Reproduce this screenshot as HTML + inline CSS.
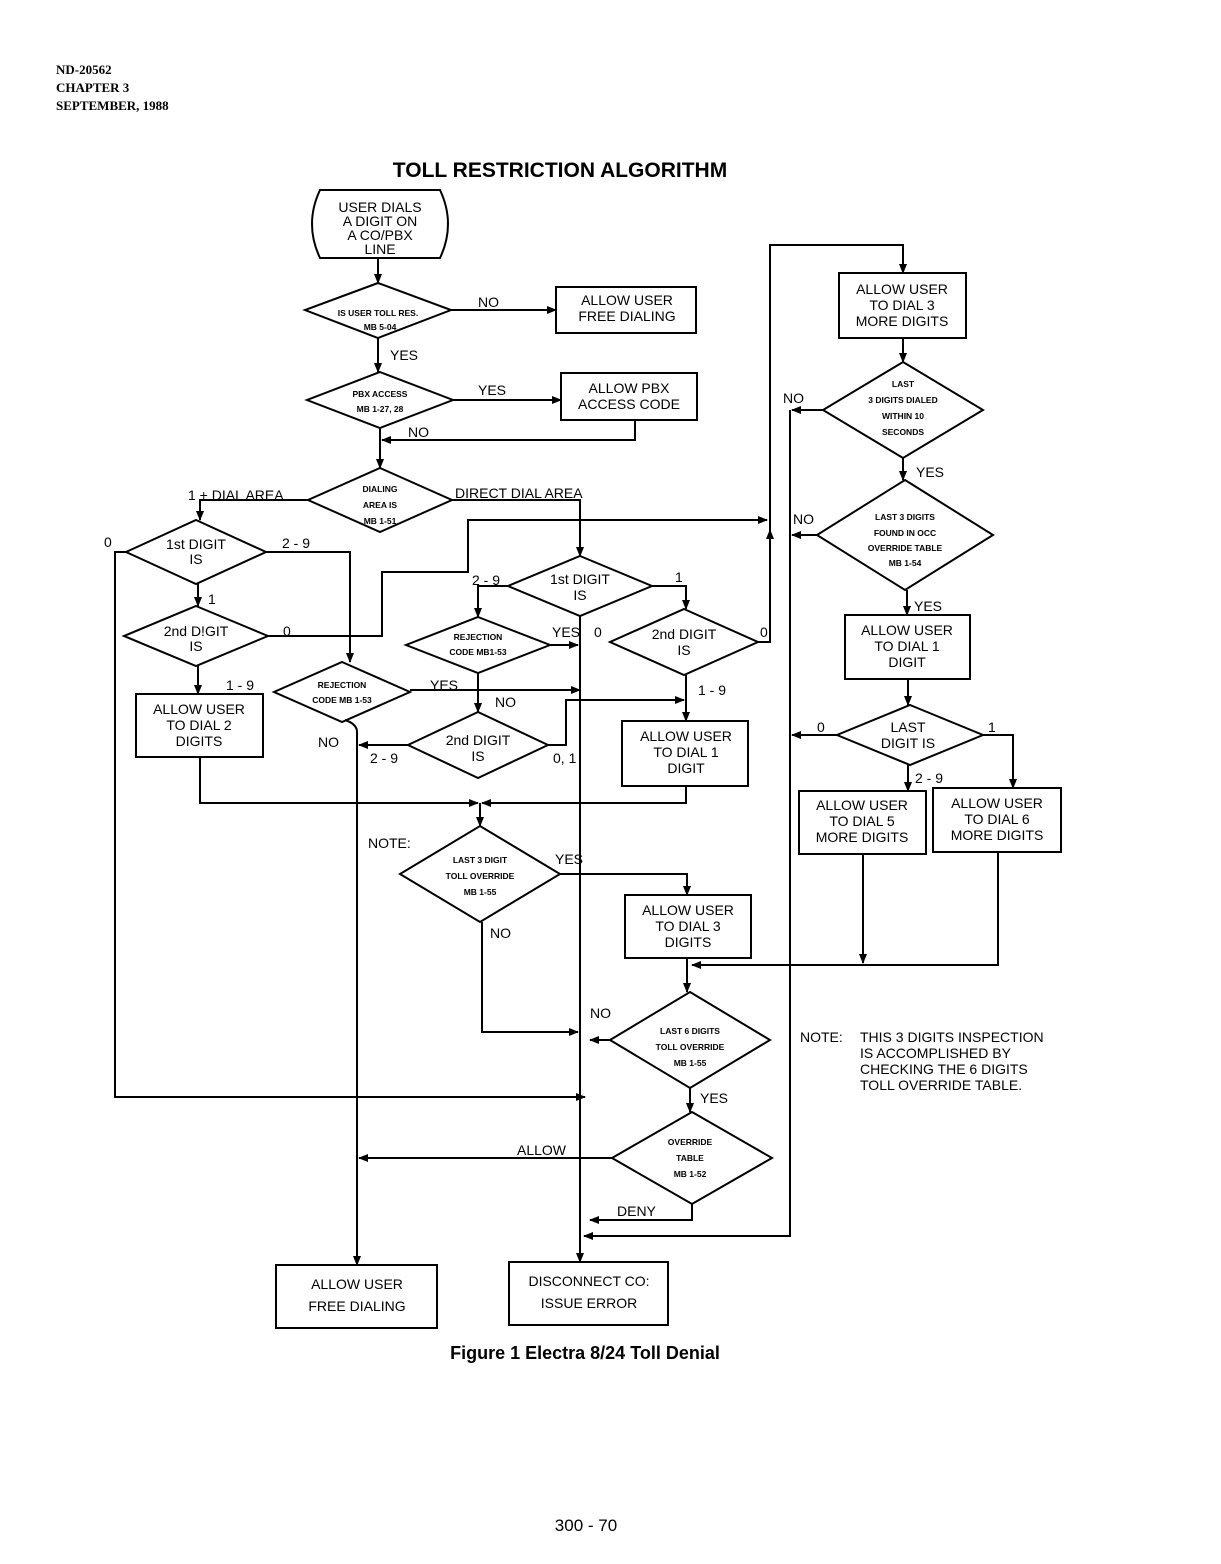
<!DOCTYPE html>
<html><head><meta charset="utf-8"><style>
html,body{margin:0;padding:0;background:#fff;}
svg{display:block;}
text{font-family:"Liberation Sans",sans-serif;fill:#000;}
.s{font-size:13.5px;}
.xs{font-size:8.5px;font-weight:bold;}
.m{font-size:14px;}
</style></head><body>
<svg width="1221" height="1564" viewBox="0 0 1221 1564" xmlns="http://www.w3.org/2000/svg">
<defs><marker id="a" markerWidth="10" markerHeight="8" refX="9" refY="4" orient="auto" markerUnits="userSpaceOnUse"><path d="M0,0 L10,4 L0,8 z" fill="#000"/></marker></defs>

<g font-family="Liberation Serif" font-weight="bold" font-size="13">
<text x="56" y="74" style="font-family:'Liberation Serif',serif">ND-20562</text>
<text x="56" y="92" style="font-family:'Liberation Serif',serif">CHAPTER 3</text>
<text x="56" y="110" style="font-family:'Liberation Serif',serif">SEPTEMBER, 1988</text>
</g>
<text x="560" y="177" text-anchor="middle" font-size="21" font-weight="bold">TOLL RESTRICTION ALGORITHM</text>

<g fill="none" stroke="#000" stroke-width="2">
<!-- start terminal -->
<path d="M320,190 H440 Q456,224 440,258 H320 Q304,224 320,190 Z"/>
<path d="M378,258 V283" marker-end="url(#a)"/>
<!-- diamond 1 -->
<path d="M378,283 L451,310 L378,338 L305,310 Z"/>
<path d="M451,310 H556" marker-end="url(#a)"/>
<rect x="556" y="287" width="140" height="46"/>
<path d="M378,338 V372" marker-end="url(#a)"/>
<!-- diamond 2 -->
<path d="M380,372 L453,400 L380,428 L307,400 Z"/>
<path d="M453,400 H561" marker-end="url(#a)"/>
<rect x="561" y="373" width="136" height="47"/>
<path d="M635,420 V440 H382" marker-end="url(#a)"/>
<path d="M380,428 V468" marker-end="url(#a)"/>
<!-- diamond 3 -->
<path d="M380,468 L452,500 L380,532 L308,500 Z"/>
<path d="M308,500 H200 V520" marker-end="url(#a)"/>
<path d="M452,500 H580 V556" marker-end="url(#a)"/>
<!-- left 1st digit -->
<path d="M196,520 L266,552 L196,584 L126,552 Z"/>
<path d="M126,552 H115 V1097 H585" marker-end="url(#a)"/>
<path d="M266,552 H350 V662" marker-end="url(#a)"/>
<path d="M198,584 V606" marker-end="url(#a)"/>
<!-- left 2nd digit -->
<path d="M196,606 L268,636 L196,666 L124,636 Z"/>
<path d="M268,636 H382 V572 H468 V520 H767" marker-end="url(#a)"/>
<path d="M198,666 V694" marker-end="url(#a)"/>
<rect x="136" y="694" width="127" height="63"/>
<path d="M200,757 V803 H478" marker-end="url(#a)"/>
<!-- left rejection -->
<path d="M342,662 L410,692 L342,722 L274,692 Z"/>
<path d="M410,690 H580" marker-end="url(#a)"/>
<path d="M345,720 Q357,724 357,732 V1265" marker-end="url(#a)"/>
<!-- middle 1st digit -->
<path d="M580,556 L652,586 L580,616 L508,586 Z"/>
<path d="M508,586 H478 V617" marker-end="url(#a)"/>
<path d="M652,586 H686 V609" marker-end="url(#a)"/>
<path d="M580,616 V1262" marker-end="url(#a)"/>
<!-- middle rejection -->
<path d="M478,617 L550,645 L478,673 L406,645 Z"/>
<path d="M550,645 H578" marker-end="url(#a)"/>
<path d="M478,673 V712" marker-end="url(#a)"/>
<!-- middle 2nd digit -->
<path d="M478,712 L548,745 L478,778 L408,745 Z"/>
<path d="M408,745 H359" marker-end="url(#a)"/>
<path d="M548,745 H566 V700 H684" marker-end="url(#a)"/>
<!-- right 2nd digit -->
<path d="M684,609 L758,642 L684,675 L610,642 Z"/>
<path d="M758,642 H770 V245 H903 V273" marker-end="url(#a)"/>
<path d="M770,560 V530" marker-end="url(#a)"/>
<path d="M686,675 V721" marker-end="url(#a)"/>
<rect x="622" y="721" width="126" height="65"/>
<path d="M686,786 V803 H482" marker-end="url(#a)"/>
<path d="M480,803 V826" marker-end="url(#a)"/>
<!-- last 3 digit -->
<path d="M480,826 L560,874 L480,922 L400,874 Z"/>
<path d="M560,874 H687 V895" marker-end="url(#a)"/>
<rect x="625" y="895" width="126" height="63"/>
<path d="M482,922 V1032 H578" marker-end="url(#a)"/>
<path d="M687,958 V992" marker-end="url(#a)"/>
<path d="M998,852 V965 H692" marker-end="url(#a)"/>
<!-- last 6 digits -->
<path d="M690,992 L770,1040 L690,1088 L610,1040 Z"/>
<path d="M610,1040 H590" marker-end="url(#a)"/>
<path d="M690,1088 V1112" marker-end="url(#a)"/>
<!-- override table -->
<path d="M692,1112 L772,1158 L692,1204 L612,1158 Z"/>
<path d="M612,1158 H359" marker-end="url(#a)"/>
<path d="M692,1204 V1220 H590" marker-end="url(#a)"/>
<path d="M790,410 V1236 H584" marker-end="url(#a)"/>
<!-- bottom boxes -->
<rect x="276" y="1265" width="161" height="63"/>
<rect x="509" y="1262" width="159" height="63"/>
<!-- right column -->
<rect x="839" y="273" width="127" height="65"/>
<path d="M903,338 V362" marker-end="url(#a)"/>
<path d="M903,362 L983,410 L903,458 L823,410 Z"/>
<path d="M823,410 H792" marker-end="url(#a)"/>
<path d="M903,458 V480" marker-end="url(#a)"/>
<path d="M905,480 L993,535 L905,590 L817,535 Z"/>
<path d="M817,535 H792" marker-end="url(#a)"/>
<path d="M907,590 V615" marker-end="url(#a)"/>
<rect x="845" y="615" width="125" height="64"/>
<path d="M908,679 V705" marker-end="url(#a)"/>
<path d="M910,705 L983,735 L910,765 L837,735 Z"/>
<path d="M837,735 H792" marker-end="url(#a)"/>
<path d="M983,735 H1013 V788" marker-end="url(#a)"/>
<path d="M908,765 V791" marker-end="url(#a)"/>
<rect x="799" y="791" width="127" height="63"/>
<rect x="933" y="788" width="128" height="64"/>
<path d="M863,854 V963" marker-end="url(#a)"/>
</g>

<!-- texts -->
<g class="m" text-anchor="middle">
<text x="380" y="212">USER DIALS</text><text x="380" y="226">A DIGIT ON</text><text x="380" y="240">A CO/PBX</text><text x="380" y="254">LINE</text>
<text x="627" y="305">ALLOW USER</text><text x="627" y="321">FREE DIALING</text>
<text x="629" y="393">ALLOW PBX</text><text x="629" y="409">ACCESS CODE</text>
<text x="196" y="549">1st DIGIT</text><text x="196" y="564">IS</text>
<text x="196" y="636">2nd D!GIT</text><text x="196" y="651">IS</text>
<text x="199" y="714">ALLOW USER</text><text x="199" y="730">TO DIAL 2</text><text x="199" y="746">DIGITS</text>
<text x="580" y="584">1st DIGIT</text><text x="580" y="600">IS</text>
<text x="684" y="639">2nd DIGIT</text><text x="684" y="655">IS</text>
<text x="478" y="745">2nd DIGIT</text><text x="478" y="761">IS</text>
<text x="686" y="741">ALLOW USER</text><text x="686" y="757">TO DIAL 1</text><text x="686" y="773">DIGIT</text>
<text x="688" y="915">ALLOW USER</text><text x="688" y="931">TO DIAL 3</text><text x="688" y="947">DIGITS</text>
<text x="357" y="1289">ALLOW USER</text><text x="357" y="1311">FREE DIALING</text>
<text x="589" y="1286">DISCONNECT CO:</text><text x="589" y="1308">ISSUE ERROR</text>
<text x="902" y="294">ALLOW USER</text><text x="902" y="310">TO DIAL 3</text><text x="902" y="326">MORE DIGITS</text>
<text x="907" y="635">ALLOW USER</text><text x="907" y="651">TO DIAL 1</text><text x="907" y="667">DIGIT</text>
<text x="908" y="732">LAST</text><text x="908" y="748">DIGIT IS</text>
<text x="862" y="810">ALLOW USER</text><text x="862" y="826">TO DIAL 5</text><text x="862" y="842">MORE DIGITS</text>
<text x="997" y="808">ALLOW USER</text><text x="997" y="824">TO DIAL 6</text><text x="997" y="840">MORE DIGITS</text>
</g>
<g class="xs" text-anchor="middle">
<text x="378" y="316">IS USER TOLL RES.</text><text x="380" y="330">MB 5-04</text>
<text x="380" y="397">PBX ACCESS</text><text x="380" y="412">MB 1-27, 28</text>
<text x="380" y="492">DIALING</text><text x="380" y="508">AREA IS</text><text x="380" y="524">MB 1-51</text>
<text x="342" y="688">REJECTION</text><text x="342" y="703">CODE MB 1-53</text>
<text x="478" y="640">REJECTION</text><text x="478" y="655">CODE MB1-53</text>
<text x="480" y="863">LAST 3 DIGIT</text><text x="480" y="879">TOLL OVERRIDE</text><text x="480" y="895">MB 1-55</text>
<text x="690" y="1034">LAST 6 DIGITS</text><text x="690" y="1050">TOLL OVERRIDE</text><text x="690" y="1066">MB 1-55</text>
<text x="690" y="1145">OVERRIDE</text><text x="690" y="1161">TABLE</text><text x="690" y="1177">MB 1-52</text>
<text x="903" y="387">LAST</text><text x="903" y="403">3 DIGITS DIALED</text><text x="903" y="419">WITHIN 10</text><text x="903" y="435">SECONDS</text>
<text x="905" y="520">LAST 3 DIGITS</text><text x="905" y="536">FOUND IN OCC</text><text x="905" y="551">OVERRIDE TABLE</text><text x="905" y="566">MB 1-54</text>
</g>
<g class="m">
<text x="478" y="307">NO</text><text x="390" y="360">YES</text>
<text x="478" y="395">YES</text><text x="408" y="437">NO</text>
<text x="188" y="500">1 + DIAL AREA</text><text x="455" y="498">DIRECT DIAL AREA</text>
<text x="104" y="547">0</text><text x="282" y="548">2 - 9</text>
<text x="208" y="604">1</text><text x="283" y="636">0</text>
<text x="226" y="690">1 - 9</text>
<text x="430" y="690">YES</text><text x="318" y="747">NO</text>
<text x="472" y="585">2 - 9</text><text x="675" y="582">1</text>
<text x="552" y="637">YES</text><text x="594" y="637">0</text><text x="760" y="637">0</text>
<text x="495" y="707">NO</text><text x="370" y="763">2 - 9</text><text x="553" y="763">0, 1</text>
<text x="698" y="695">1 - 9</text>
<text x="368" y="848">NOTE:</text><text x="555" y="864">YES</text><text x="490" y="938">NO</text>
<text x="590" y="1018">NO</text><text x="700" y="1103">YES</text>
<text x="517" y="1155">ALLOW</text><text x="617" y="1216">DENY</text>
<text x="783" y="403">NO</text><text x="916" y="477">YES</text>
<text x="793" y="524">NO</text><text x="914" y="611">YES</text>
<text x="817" y="732">0</text><text x="988" y="732">1</text><text x="915" y="783">2 - 9</text>
<text x="800" y="1042">NOTE:</text>
<text x="860" y="1042">THIS 3 DIGITS INSPECTION</text><text x="860" y="1058">IS ACCOMPLISHED BY</text><text x="860" y="1074">CHECKING THE 6 DIGITS</text><text x="860" y="1090">TOLL OVERRIDE TABLE.</text>
</g>
<text x="585" y="1359" text-anchor="middle" font-size="18" font-weight="bold">Figure 1   Electra 8/24 Toll Denial</text>
<text x="586" y="1531" text-anchor="middle" font-size="17">300 - 70</text>
</svg>
</body></html>
